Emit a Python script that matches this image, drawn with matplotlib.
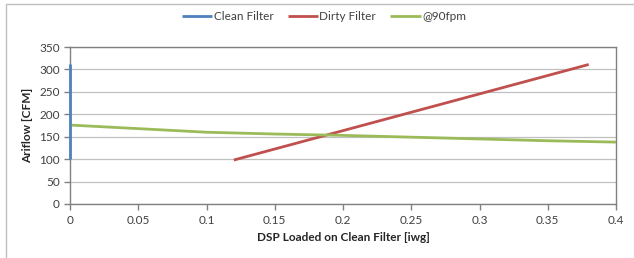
import matplotlib
matplotlib.use("Agg")
import matplotlib.pyplot as plt
from matplotlib.patches import Rectangle

plt.rcParams['font.family'] = ['Lato', 'DejaVu Sans']

clean_x = [0.0, 0.0]
clean_y = [100, 312]
dirty_x = [0.12, 0.38]
dirty_y = [98, 311]
fpm_x = [0.0, 0.05, 0.1, 0.15, 0.2, 0.25, 0.3, 0.35, 0.4]
fpm_y = [176, 168, 160, 156, 153, 149, 145, 141, 138]

xticks = [0, 0.05, 0.1, 0.15, 0.2, 0.25, 0.3, 0.35, 0.4]
xticklabels = ["0", "0.05", "0.1", "0.15", "0.2", "0.25", "0.3", "0.35", "0.4"]
yticks = [0, 50, 100, 150, 200, 250, 300, 350]

W, H = 634, 258
fig = plt.figure(figsize=(W / 100, H / 100), dpi=100)
fig.patches.append(Rectangle((6 / W, -0.1), 1.2, (H - 4) / H + 0.1, transform=fig.transFigure,
                             fill=False, edgecolor='#BFBFBF', linewidth=1.0))

ax = fig.add_axes([70 / W, 1 - 204 / H, (616 - 70) / W, (204 - 47) / H])
ax.plot(clean_x, clean_y, color='#4F81BD', lw=2.0, label='Clean Filter', solid_capstyle='butt',
        clip_on=False, zorder=5)
ax.plot(dirty_x, dirty_y, color='#C0504D', lw=2.0, label='Dirty Filter', solid_capstyle='butt', zorder=4)
ax.plot(fpm_x, fpm_y, color='#9BBB59', lw=2.0, label='@90fpm', solid_capstyle='butt', zorder=4)

ax.set_xlim(0, 0.4)
ax.set_ylim(0, 350)
ax.set_xticks(xticks)
ax.set_xticklabels(xticklabels)
ax.set_yticks(yticks)
ax.grid(axis='y', color='#C0C0C0', lw=0.9)
ax.set_axisbelow(True)
for s in ax.spines.values():
    s.set_color('#808080')
    s.set_linewidth(1.0)
    s.set_zorder(2)
ax.tick_params(axis='both', colors='#808080', labelcolor='#404040', labelsize=8.5, length=4, width=1.0)
ax.tick_params(axis='x', pad=4)

ax.set_xlabel('DSP Loaded on Clean Filter [iwg]', fontsize=8.5, fontweight='bold', color='#262626', labelpad=4)
ax.set_ylabel('Ariflow [CFM]', fontsize=8.5, fontweight='bold', color='#262626', labelpad=4)

leg = fig.legend(loc='center', bbox_to_anchor=(324 / W, 1 - 17 / H), ncol=3, frameon=False,
                 fontsize=8.5, handlelength=2.6, handletextpad=0.1, columnspacing=1.2)
for t in leg.get_texts():
    t.set_color('#404040')

fig.savefig('out.png', dpi=100)
